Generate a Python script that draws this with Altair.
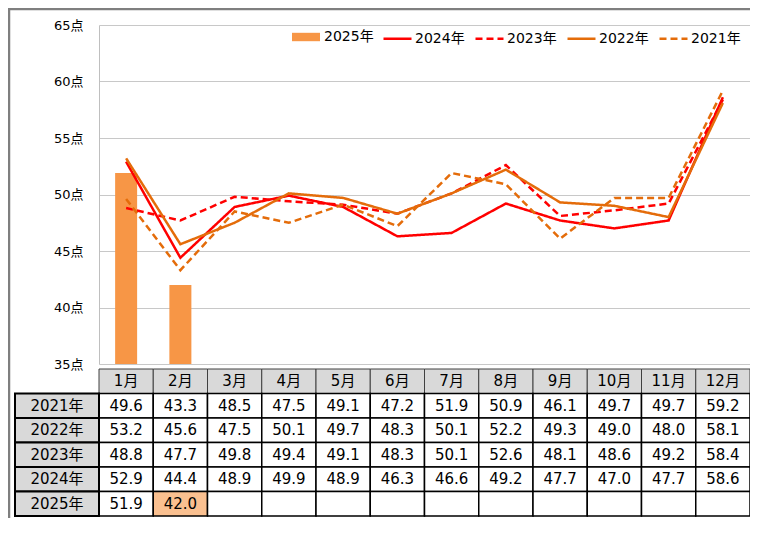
import altair as alt
import pandas as pd

# ---------------- data ----------------
MONTHS = ["1月", "2月", "3月", "4月", "5月", "6月", "7月", "8月", "9月", "10月", "11月", "12月"]
TABLE_YEARS = ["2021年", "2022年", "2023年", "2024年", "2025年"]
V2021 = [49.6, 43.3, 48.5, 47.5, 49.1, 47.2, 51.9, 50.9, 46.1, 49.7, 49.7, 59.2]
V2022 = [53.2, 45.6, 47.5, 50.1, 49.7, 48.3, 50.1, 52.2, 49.3, 49.0, 48.0, 58.1]
V2023 = [48.8, 47.7, 49.8, 49.4, 49.1, 48.3, 50.1, 52.6, 48.1, 48.6, 49.2, 58.4]
V2024 = [52.9, 44.4, 48.9, 49.9, 48.9, 46.3, 46.6, 49.2, 47.7, 47.0, 47.7, 58.6]
V2025 = [51.9, 42.0]
BAR_SERIES = ["2025年"]
BAR_COLORS = ["#F79646"]
LINE_SERIES = ["2024年", "2023年", "2022年", "2021年"]
LINE_COLORS = ["#FF0000", "#FF0000", "#E46C0A", "#E46C0A"]
LINE_DASHES = [[1, 0], [7, 4], [1, 0], [7, 4]]
Y_TICKS = [35, 40, 45, 50, 55, 60, 65]
HIGHLIGHT = ("2025年", 2)

# ---------------- layout ----------------
FONT = "DejaVu Sans, Noto Sans CJK JP"
W, H = 735, 491
LABEL_W = 84
PLOT_H = 339
TABLE_TOP = 344

by_year = {"2021年": V2021, "2022年": V2022, "2023年": V2023, "2024年": V2024, "2025年": V2025}

line_rows = []
for yr in LINE_SERIES:
    for i, v in enumerate(by_year[yr]):
        line_rows.append({"series": yr, "m": i + 1, "value": v})
lines_df = pd.DataFrame(line_rows)

bars_df = pd.DataFrame({"series": "2025年", "m": list(range(1, len(V2025) + 1)), "value": V2025})

cell_rows = []
for yr in TABLE_YEARS:
    vals = by_year[yr]
    for i in range(12):
        m = i + 1
        cell_rows.append({
            "row": yr, "m": m, "x0": m - 0.5, "x1": m + 0.5,
            "value": vals[i] if i < len(vals) else None,
            "fill": "#FAC090" if (yr, m) == HIGHLIGHT else "white",
        })
cells_df = pd.DataFrame(cell_rows)
text_df = cells_df.dropna(subset=["value"])

header_df = pd.DataFrame({"row": "header", "m": list(range(1, 13)), "label": MONTHS})
header_df["x0"] = header_df["m"] - 0.5
header_df["x1"] = header_df["m"] + 0.5

labels_df = pd.DataFrame({"row": TABLE_YEARS})

# ---------------- scales ----------------
xscale = alt.Scale(domain=[0.5, 12.5], range=[LABEL_W, W], nice=False, zero=False, padding=0)
yscale = alt.Scale(domain=[35, 65], range=[PLOT_H, 0], nice=False, zero=False)
rowscale = alt.Scale(domain=["header"] + TABLE_YEARS, range=[TABLE_TOP, H], paddingInner=0, paddingOuter=0)
fscale = alt.Scale(domain=BAR_SERIES, range=BAR_COLORS)
sscale = alt.Scale(domain=LINE_SERIES, range=LINE_COLORS)
dscale = alt.Scale(domain=LINE_SERIES, range=LINE_DASHES)

yaxis = alt.Axis(values=Y_TICKS, labelExpr="datum.value + '点'", title=None, ticks=False,
                 labelPadding=16, offset=-LABEL_W, orient="left", grid=True, gridColor="#C8C8C8",
                 domainColor="#BFBFBF", labelFont=FONT, labelFontSize=13, labelColor="black")

bar_legend = alt.Legend(
    title=None, orient="none", legendX=277, legendY=-2, direction="horizontal",
    symbolType="M-1,-0.3L1,-0.3L1,0.3L-1,0.3Z", symbolSize=784, symbolStrokeWidth=0,
    labelFont=FONT, labelFontSize=14, labelColor="black", labelOffset=4, padding=0,
)
line_legend = alt.Legend(
    title=None, orient="none", legendX=367, legendY=-2, direction="horizontal", columns=4,
    symbolType="stroke", symbolSize=784, symbolStrokeWidth=2.5, labelFont=FONT, labelFontSize=14,
    labelColor="black", labelOffset=2, columnPadding=5, padding=0,
)

# ---------------- plot ----------------
bars = alt.Chart(bars_df).mark_bar(width=22).encode(
    x=alt.X("m:Q", scale=xscale, axis=None),
    y=alt.Y("value:Q", scale=yscale, axis=yaxis),
    y2=alt.datum(35),
    fill=alt.Fill("series:N", scale=fscale, legend=bar_legend),
)
lines = alt.Chart(lines_df).mark_line(strokeWidth=2.5).encode(
    x=alt.X("m:Q", scale=xscale, axis=None),
    y=alt.Y("value:Q", scale=yscale, axis=yaxis),
    stroke=alt.Stroke("series:N", scale=sscale, legend=line_legend),
    strokeDash=alt.StrokeDash("series:N", scale=dscale, legend=line_legend),
)
plot = alt.layer(bars, lines)

# ---------------- table ----------------
ycells = alt.Y("row:N", scale=rowscale, axis=None)
header_rect = alt.Chart(header_df).mark_rect(stroke="#404040", strokeWidth=1, fill="#D9D9D9").encode(
    x=alt.X("x0:Q", scale=xscale, axis=None), x2="x1:Q", y=ycells)
header_text = alt.Chart(header_df).mark_text(font=FONT, fontSize=15, color="black", baseline="middle").encode(
    x=alt.X("m:Q", scale=xscale, axis=None), y=ycells, text="label:N")
cell_rect = alt.Chart(cells_df).mark_rect(stroke="black", strokeWidth=1.5).encode(
    x=alt.X("x0:Q", scale=xscale, axis=None), x2="x1:Q", y=ycells, fill=alt.Fill("fill:N", scale=None))
cell_text = alt.Chart(text_df).mark_text(font=FONT, fontSize=15, color="black", baseline="middle").encode(
    x=alt.X("m:Q", scale=xscale, axis=None), y=ycells, text=alt.Text("value:Q", format=".1f"))
label_rect = alt.Chart(labels_df).mark_rect(stroke="black", strokeWidth=2, fill="#D9D9D9").encode(
    x=alt.value(0), x2=alt.value(LABEL_W), y=ycells)
label_text = alt.Chart(labels_df).mark_text(font=FONT, fontSize=15, color="black", baseline="middle").encode(
    x=alt.value(LABEL_W / 2), y=ycells, text="row:N")
table = alt.layer(header_rect, header_text, cell_rect, cell_text, label_rect, label_text)

# ---------------- outer frame ----------------
one = pd.DataFrame({"k": [0]})
frame_top = alt.Chart(one).mark_rule(color="#7F7F7F", strokeWidth=2.5).encode(
    x=alt.value(-7), x2=alt.value(W), y=alt.value(-16))
frame_left = alt.Chart(one).mark_rule(color="#7F7F7F", strokeWidth=2.5).encode(
    x=alt.value(-6), y=alt.value(-17), y2=alt.value(H + 2))

chart = alt.layer(frame_top, frame_left, plot, table).resolve_scale(y="independent").properties(
    width=W, height=H,
    padding={"left": 7, "top": 17, "right": 0, "bottom": 2},
    autosize=alt.AutoSizeParams(type="none"),
).configure_view(stroke=None)

chart.save("out.html", embed_options={"renderer": "svg", "actions": False})
